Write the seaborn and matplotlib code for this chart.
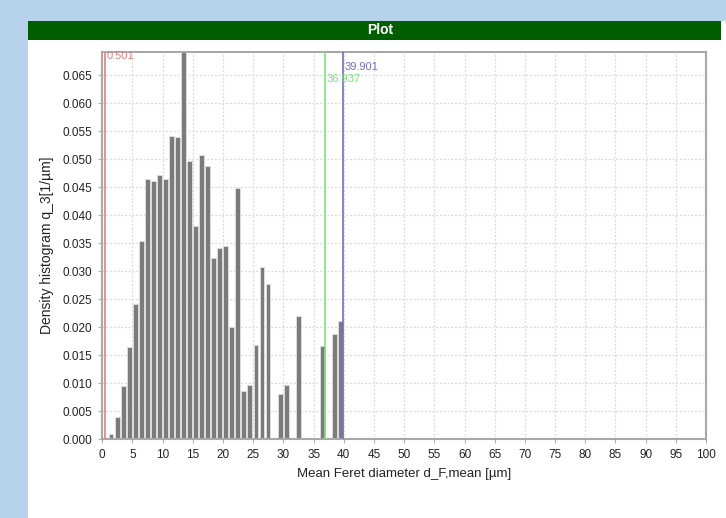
import numpy as np
import pandas as pd
import matplotlib
matplotlib.use("Agg")
import matplotlib.pyplot as plt
import seaborn as sns
from matplotlib.patches import Rectangle

# ---- data ----
bin_left = list(range(1, 40))  # µm, bin width 1
heights = [0.0010, 0.0040, 0.0096, 0.0165, 0.0242, 0.0354, 0.0464, 0.0462, 0.0471, 0.0464,
           0.0542, 0.0540, 0.0750, 0.0496, 0.0380, 0.0507, 0.0488, 0.0324, 0.0341, 0.0346,
           0.0201, 0.0449, 0.0086, 0.0097, 0.0168, 0.0308, 0.0277, 0.0000, 0.0081, 0.0097,
           0.0000, 0.0221, 0.0000, 0.0000, 0.0000, 0.0167, 0.0000, 0.0188, 0.0211]
marker_values = [0.501, 36.937, 39.901]
marker_labels = ["0.501", "36.937", "39.901"]
marker_colors = ["#e08080", "#80e080", "#7070c0"]
x_ticks = list(range(0, 101, 5))
y_ticks = [round(0.005 * i, 3) for i in range(14)]

df = pd.DataFrame({"d": [b + 0.45 for b in bin_left], "q3": heights})
edges = [b - 0.05 for b in bin_left] + [bin_left[-1] + 0.95]

sns.set_style("white")
plt.rcParams["font.family"] = ["Liberation Sans", "DejaVu Sans"]

fig = plt.figure(figsize=(7.26, 5.18), dpi=100)
fig.patch.set_facecolor("#b7d3ec")
W, H = 726, 518
# white panel
fig.patches.append(Rectangle((28 / W, 0), 1 - 28 / W, 1 - 21 / H, transform=fig.transFigure,
                             facecolor="white", edgecolor="none", zorder=0))
# green title bar
fig.patches.append(Rectangle((28 / W, 1 - 40 / H), (721 - 28) / W, 19 / H, transform=fig.transFigure,
                             facecolor="#005e00", edgecolor="none", zorder=1))
fig.text(380 / W, 1 - 30.5 / H, "Plot", color="white", fontsize=10,
         fontweight="bold", ha="center", va="center", zorder=2)

ax = fig.add_axes([102.3 / W, 1 - 439.3 / H, (706 - 102.3) / W, (439.3 - 51.7) / H])
ax.set_zorder(3)

sns.histplot(data=df, x="d", weights="q3", bins=edges, shrink=0.8, ax=ax,
             color="#7b7b7b", alpha=1, edgecolor="#dcdcdc", linewidth=0.7, zorder=2)

for v, lab, c, ty in zip(marker_values, marker_labels, marker_colors, [56, 79, 67]):
    ax.axvline(v, color=c, linewidth=1.2, zorder=3)
    yv = (439.3 - ty) / (439.3 - 51.7) * 0.0692
    ax.text(v + 0.15, yv, lab, color=c, fontsize=8, ha="left", va="center", zorder=4)

ax.set_xlim(0, 100)
ax.set_ylim(0, 0.0692)
ax.set_xticks(x_ticks)
ax.set_yticks(y_ticks)
ax.set_xticklabels([str(t) for t in x_ticks], fontsize=8.5, color="#222222")
ax.set_yticklabels([f"{t:.3f}" for t in y_ticks], fontsize=8.5, color="#222222")
ax.tick_params(axis="both", which="major", length=3, width=0.8, color="#b0b0b0",
               bottom=True, left=True, pad=4)
ax.grid(True, linestyle=(0, (1.5, 1.5)), color="#d8d8d8", linewidth=0.9, zorder=0)
ax.set_axisbelow(True)
for s in ax.spines.values():
    s.set_color("#a8a8a8")
    s.set_linewidth(1.5)
ax.set_xlabel("Mean Feret diameter d_F,mean [µm]", fontsize=9.5, color="#222222", labelpad=5)
ax.set_ylabel("Density histogram q_3[1/µm]", fontsize=10, color="#222222", labelpad=6)

fig.savefig("out.png", dpi=100, facecolor=fig.get_facecolor())
